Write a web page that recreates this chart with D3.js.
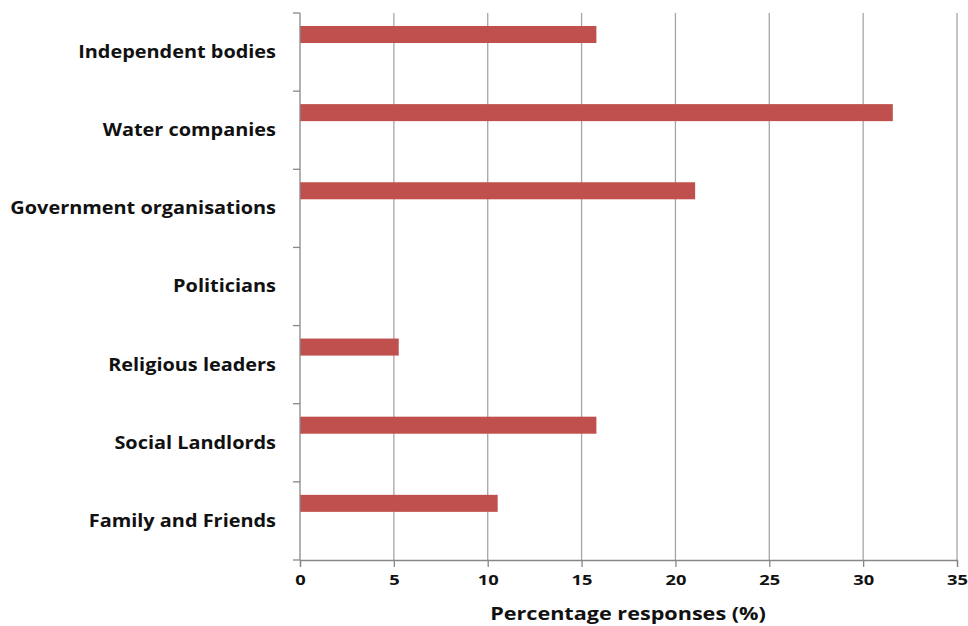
<!DOCTYPE html>
<html>
<head>
<meta charset="utf-8">
<script src="https://cdn.jsdelivr.net/npm/d3@7"></script>
<style>
  html, body { margin: 0; padding: 0; background: #fff; }
  svg text { font-family: "Open Sans", "DejaVu Sans", sans-serif; font-weight: 700; fill: #111; }
</style>
</head>
<body>
<svg id="chart" width="968" height="626"></svg>
<script>
// Sources of information respondents trust (top to bottom)
const categories = [
  "Independent bodies",
  "Water companies",
  "Government organisations",
  "Politicians",
  "Religious leaders",
  "Social Landlords",
  "Family and Friends"
];
const values = [15.79, 31.58, 21.05, 0, 5.26, 15.79, 10.53];
const xTicks = [0, 5, 10, 15, 20, 25, 30, 35];
const xTitle = "Percentage responses (%)";

const svg = d3.select("#chart");
const margin = { left: 300, right: 11, top: 13, bottom: 66 };
const W = 968, H = 626;
const innerW = W - margin.left - margin.right;
const innerH = H - margin.top - margin.bottom;

const x = d3.scaleLinear().domain([0, 35]).range([0, innerW]);
const y = d3.scaleBand().domain(categories).range([0, innerH]).padding(0);

// widen text glyphs horizontally by a given factor
function stretch(sel, factor) {
  sel.each(function () {
    const w = this.getComputedTextLength();
    d3.select(this).attr("textLength", w * factor).attr("lengthAdjust", "spacingAndGlyphs");
  });
}

const g = svg.append("g").attr("transform", `translate(${margin.left},${margin.top})`);

// vertical gridlines
g.selectAll("line.grid").data(xTicks.slice(1)).join("line")
  .attr("class", "grid")
  .attr("x1", d => x(d)).attr("x2", d => x(d))
  .attr("y1", 0).attr("y2", innerH)
  .attr("stroke", "#a6a6a6").attr("stroke-width", 1.3);

// bars sit in the upper slot of each category band
const barOffset = y.bandwidth() * 0.166;
const barH = y.bandwidth() * 0.218;
g.selectAll("rect.bar").data(values).join("rect")
  .attr("class", "bar")
  .attr("x", x(0))
  .attr("y", (d, i) => y(categories[i]) + barOffset)
  .attr("width", d => x(d) - x(0))
  .attr("height", barH)
  .attr("fill", "#c0504d");

// x axis
const xAxis = g.append("g").attr("transform", `translate(0,${innerH})`)
  .call(d3.axisBottom(x).tickValues(xTicks).tickSize(7).tickPadding(7));
xAxis.select(".domain").attr("stroke", "#888").attr("stroke-width", 1.3);
xAxis.selectAll(".tick line").attr("stroke", "#888").attr("stroke-width", 1.3);
xAxis.selectAll("text")
  .style("font-size", "15px").style("font-family", "Open Sans").style("font-weight", 700)
  .attr("fill", "#111")
  .call(stretch, 1.22);

// y axis: ticks at band boundaries, labels centred in bands
const yAxisG = g.append("g");
yAxisG.append("line").attr("x1", 0).attr("x2", 0).attr("y1", 0).attr("y2", innerH)
  .attr("stroke", "#888").attr("stroke-width", 1.3);
const bounds = categories.map(c => y(c)).concat([innerH]);
yAxisG.selectAll("line.ytick").data(bounds).join("line")
  .attr("class", "ytick")
  .attr("x1", -7).attr("x2", 0)
  .attr("y1", d => d).attr("y2", d => d)
  .attr("stroke", "#888").attr("stroke-width", 1.3);
yAxisG.selectAll("text.cat").data(categories).join("text")
  .attr("class", "cat")
  .attr("x", -24)
  .attr("y", d => y(d) + y.bandwidth() / 2)
  .attr("dy", "0.35em")
  .attr("text-anchor", "end")
  .style("font-size", "17px")
  .text(d => d)
  .call(stretch, 1.17);

// axis title
svg.append("text")
  .attr("x", 628)
  .attr("y", 620)
  .attr("text-anchor", "middle")
  .style("font-size", "18px")
  .text(xTitle)
  .call(stretch, 1.2);
</script>
</body>
</html>
